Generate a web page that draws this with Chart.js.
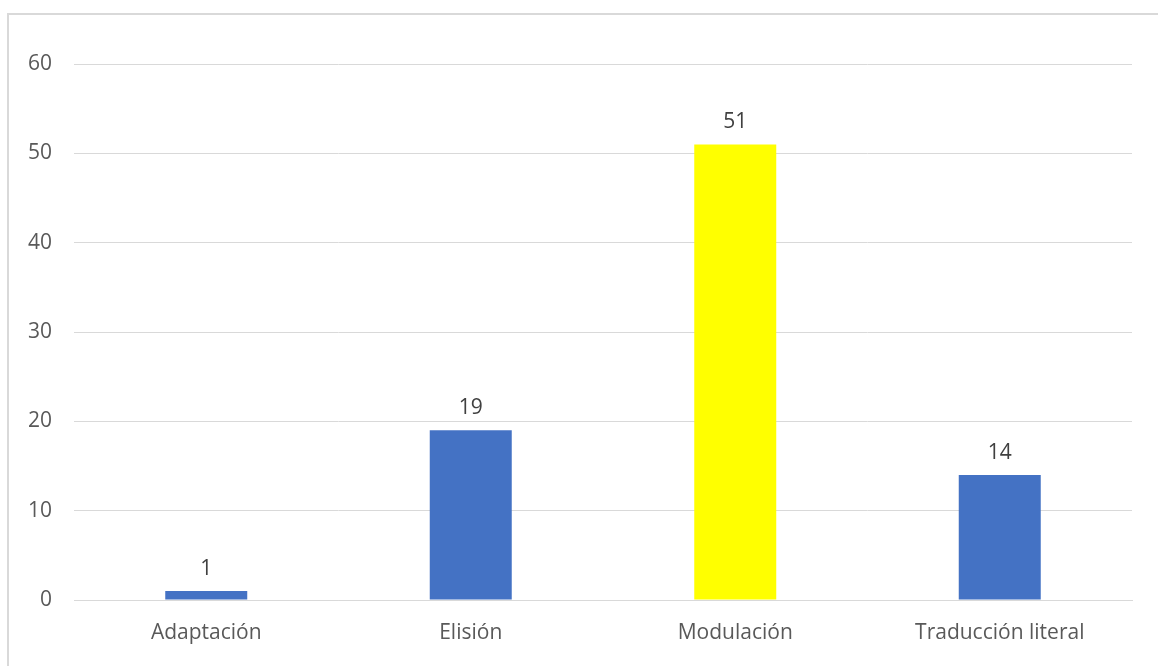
<!DOCTYPE html>
<html>
<head>
<meta charset="utf-8">
<script src="https://cdn.jsdelivr.net/npm/chart.js@4/dist/chart.umd.min.js"></script>
<style>
  html, body { margin: 0; padding: 0; background: #fff; }
  #wrap { position: relative; width: 1158px; height: 666px; }
  #frame { position: absolute; left: 7px; top: 13px; right: 0; bottom: 0; border-left: 2px solid #d9d9d9; border-top: 2px solid #d9d9d9; }
  canvas { position: absolute; left: 0; top: 0; }
</style>
</head>
<body>
<div id="wrap">
  <div id="frame"></div>
  <canvas id="chart" width="1158" height="666"></canvas>
</div>
<script>
const categories = ['Adaptación', 'Elisión', 'Modulación', 'Traducción literal'];
const values = [1, 19, 51, 14];
const barColors = ['#4472c4', '#4472c4', '#ffff00', '#4472c4'];
const yTicks = [0, 10, 20, 30, 40, 50, 60];

const fontFamily = '"Open Sans", sans-serif';

const valueLabels = {
    id: 'valueLabels',
    afterDatasetsDraw(chart) {
        const ctx = chart.ctx;
        const meta = chart.getDatasetMeta(0);
        ctx.save();
        ctx.font = `21px ${fontFamily}`;
        ctx.fillStyle = '#404040';
        ctx.textAlign = 'center';
        ctx.textBaseline = 'middle';
        meta.data.forEach((bar, i) => {
            ctx.fillText(String(values[i]), bar.x, bar.y - 22);
        });
        ctx.restore();
    }
};

new Chart(document.getElementById('chart'), {
    type: 'bar',
    data: {
        labels: categories,
        datasets: [{
            data: values,
            backgroundColor: barColors,
            barPercentage: 0.62,
            categoryPercentage: 0.5
        }]
    },
    options: {
        responsive: false,
        animation: false,
        layout: { padding: { left: 0, right: 26, top: 64, bottom: 0 } },
        plugins: { legend: { display: false }, tooltip: { enabled: false } },
        scales: {
            x: {
                grid: { display: false, drawTicks: false },
                border: { color: '#d9d9d9', width: 1 },
                ticks: { color: '#595959', font: { family: fontFamily, size: 21 }, padding: 20 },
                afterFit: (s) => { s.height = 66; }
            },
            y: {
                min: 0, max: 60,
                afterBuildTicks: (s) => { s.ticks = yTicks.map(v => ({ value: v })); },
                grid: { color: '#d9d9d9', drawTicks: false },
                border: { display: false },
                ticks: { color: '#595959', font: { family: fontFamily, size: 21 }, padding: 22 },
                afterFit: (s) => { s.width = 74; }
            }
        }
    },
    plugins: [valueLabels]
});
</script>
</body>
</html>
